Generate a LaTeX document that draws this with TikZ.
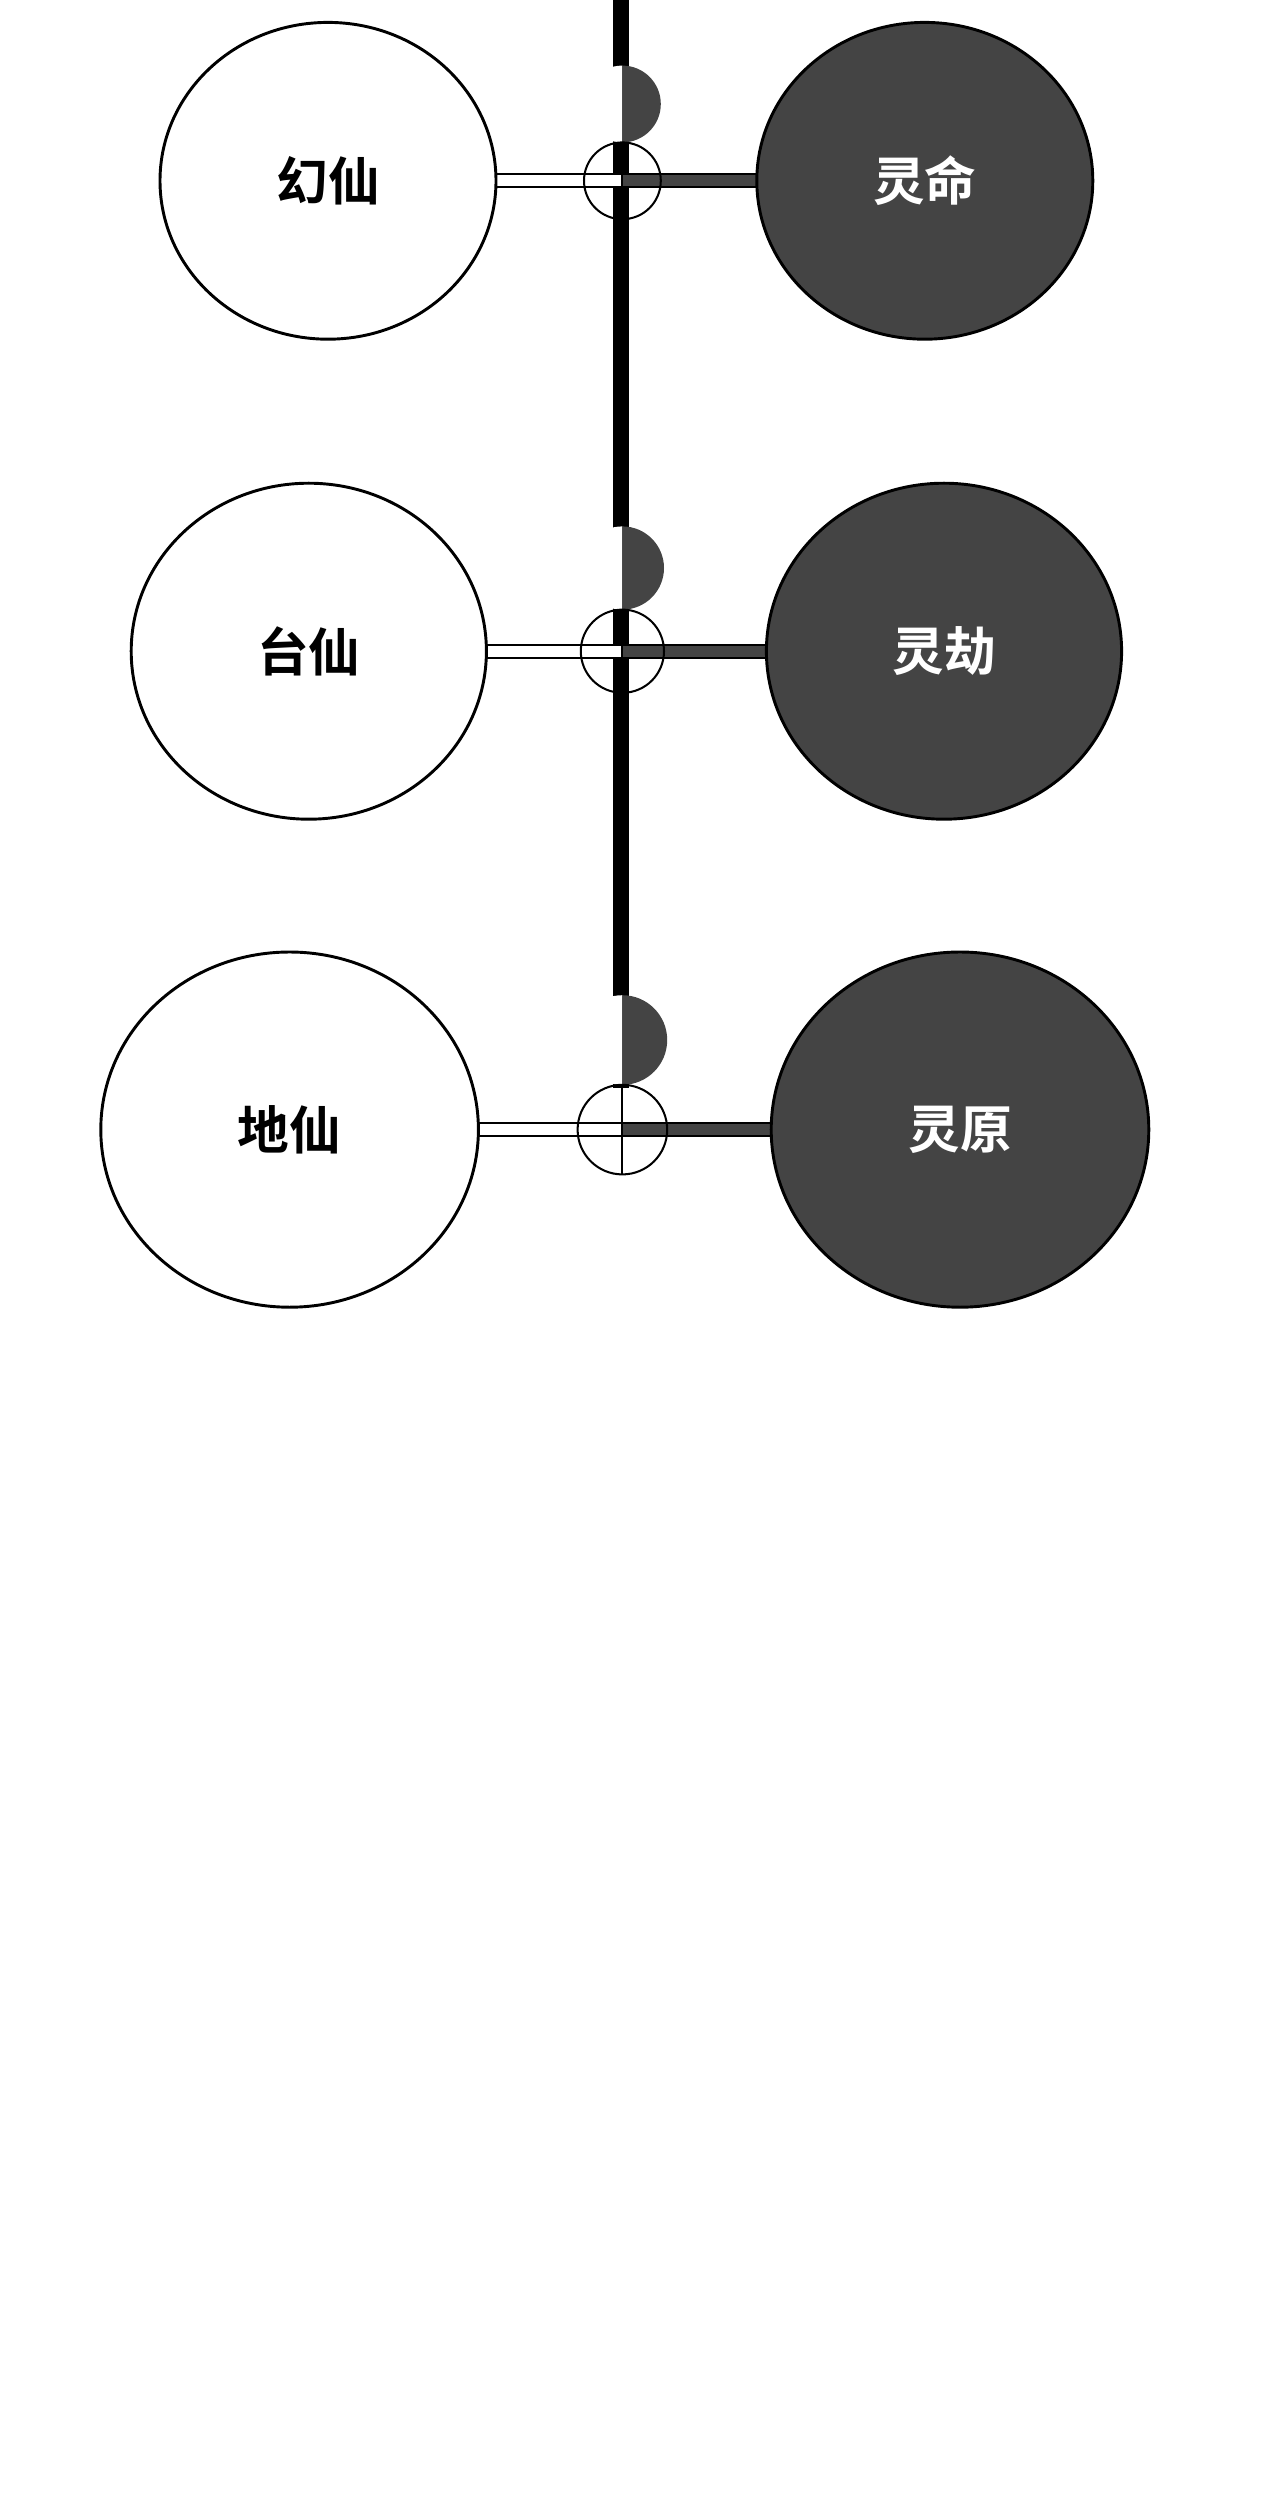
\documentclass[tikz,border=0pt]{standalone}
\usepackage{fontspec}
\newfontfamily\cjk{Noto Sans CJK SC Bold}
\usetikzlibrary{shapes.geometric,calc}
\definecolor{darkfill}{HTML}{444444}
\tikzset{
  realm/.style={ellipse,draw=black,line width=2.6pt,inner sep=0pt,font=\cjk\fontsize{46}{50}\selectfont},
  xian/.style={realm,fill=white,text=black},
  ling/.style={realm,fill=darkfill,text=white},
  band/.style={draw=black,line width=1.8pt}
}
\begin{document}
\begin{tikzpicture}[x=0.05cm,y=-0.05cm]
  \useasboundingbox (0,0) rectangle (800,1565);
  % trunk
  \coordinate (top) at (388,0);
  \coordinate (bottom) at (388,680);
  \draw[line width=14pt] (top) -- (bottom);
  \foreach \n/\y/\lx/\rx/\w/\h/\r/\a/\b in {
      1/113/205/578/210/198/24/幻仙/灵命,
      2/407/193/590/222/210/26/台仙/灵劫,
      3/706/181/600/236/222/28/地仙/灵原} {
    % bands
    \fill[white] (\lx,\y-4) rectangle (389,\y+4);
    \fill[darkfill] (389,\y-4) rectangle (\rx,\y+4);
    \draw[band] (\lx,\y-4) -- (\rx,\y-4) (\lx,\y+4) -- (\rx,\y+4);
    % joint
    \coordinate (j\n) at (389,\y);
    \fill[white] (j\n) ++(0,-\r) arc (90:270:\r) -- cycle;
    \fill[darkfill] (j\n) ++(0,-\r) arc (90:-90:\r) -- cycle;
    \draw[line width=1.8pt] (j\n) circle (\r);
    \draw[line width=1.8pt] ($(j\n)+(0,-\r)$) -- ($(j\n)+(0,\r)$);
    % realms
    \node[xian,minimum width=\w*0.05cm,minimum height=\h*0.05cm] (x\n) at (\lx,\y) {\a};
    \node[ling,minimum width=\w*0.05cm,minimum height=\h*0.05cm] (l\n) at (\rx,\y) {\b};
  }
\end{tikzpicture}
\end{document}
